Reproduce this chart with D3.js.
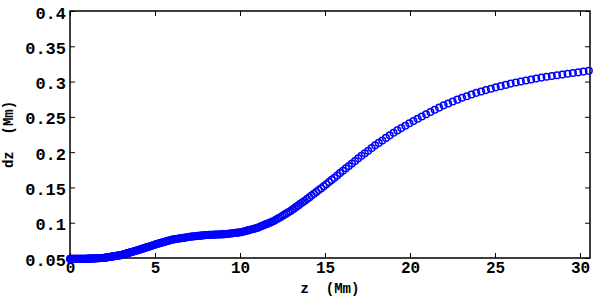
<!DOCTYPE html>
<html>
<head>
<meta charset="utf-8">
<script src="https://cdn.jsdelivr.net/npm/d3@7"></script>
<style>
  body { margin: 0; background: #fff; }
  svg { display: block; }
  .tick text { font-family: 'Liberation Mono', 'DejaVu Sans Mono', monospace; font-weight: bold; font-size: 17px; fill: #000; }
  .x-axis .tick text { font-size: 16px; }
  .tick line { stroke: #000; stroke-width: 1; }
  .label { font-family: 'Liberation Mono', monospace; font-weight: bold; font-size: 14px; fill: #000; white-space: pre; }
</style>
</head>
<body>
<div class="container"></div>
<script>
// grid spacing dz (Mm) at every grid point; z is the running sum of dz
const dzValues = [
  0.0487, 0.0487, 0.0487, 0.0487, 0.0487, 0.0488, 0.0488, 0.0488, 0.0488, 0.0488,
  0.0488, 0.0488, 0.0489, 0.0489, 0.0489, 0.0489, 0.0489, 0.0489, 0.049, 0.049,
  0.049, 0.049, 0.0491, 0.0491, 0.0492, 0.0492, 0.0493, 0.0493, 0.0494, 0.0494,
  0.0495, 0.0495, 0.0496, 0.0497, 0.0497, 0.0498, 0.0499, 0.0499, 0.05, 0.05, 0.0501,
  0.0503, 0.0505, 0.0507, 0.0509, 0.0511, 0.0513, 0.0515, 0.0517, 0.0519, 0.0521,
  0.0523, 0.0525, 0.0527, 0.0529, 0.0531, 0.0533, 0.0535, 0.0537, 0.0539,
  0.0541, 0.0545, 0.0549, 0.0553, 0.0557, 0.0561, 0.0565, 0.0569, 0.0573, 0.0577,
  0.0581, 0.0585, 0.0589, 0.0593, 0.0597, 0.0601, 0.0605,
  0.0609, 0.0614, 0.0619, 0.0624, 0.0629, 0.0634, 0.0639, 0.0644, 0.0649, 0.0654,
  0.0659, 0.0664, 0.0669, 0.0674, 0.0679, 0.0684,
  0.0691, 0.0696, 0.0701, 0.0706, 0.0711, 0.0716, 0.0721, 0.0726, 0.0731, 0.0736,
  0.0741, 0.0746, 0.0751, 0.0756,
  0.0761, 0.0764, 0.0767, 0.077, 0.0773, 0.0776, 0.0779, 0.0782, 0.0785, 0.0788,
  0.0791, 0.0794, 0.0797,
  0.0801, 0.0803, 0.0805, 0.0807, 0.0809, 0.0811, 0.0813, 0.0815, 0.0817, 0.0819,
  0.0821, 0.0823,
  0.0825, 0.0826, 0.0827, 0.0828, 0.0829, 0.083, 0.0831, 0.0832, 0.0833, 0.0834,
  0.0835, 0.0835,
  0.0835, 0.0838, 0.084, 0.0842, 0.0844, 0.0847, 0.0849, 0.0851, 0.0854, 0.0856,
  0.0859, 0.0861,
  0.0864, 0.0869, 0.0875, 0.088, 0.0886, 0.0891, 0.0897, 0.0903, 0.0908, 0.0914, 0.092,
  0.0926, 0.0935, 0.0945, 0.0954, 0.0964, 0.0973, 0.0983, 0.0993, 0.1003, 0.1013, 0.1023,
  0.1037, 0.1052, 0.1067, 0.1082, 0.1098, 0.1114, 0.113, 0.1147, 0.1163,
  0.1182, 0.1203, 0.1224, 0.1245, 0.1267, 0.1289, 0.1312, 0.1335,
  0.1359, 0.1384, 0.141, 0.1436, 0.1462, 0.1489, 0.1517,
  0.1546, 0.1576, 0.1607, 0.1638, 0.167, 0.1703,
  0.1736, 0.177, 0.1804, 0.1839, 0.1875, 0.1912,
  0.1948, 0.1984, 0.202, 0.2058, 0.2096,
  0.2131, 0.2166, 0.2202, 0.2238,
  0.2275, 0.2308, 0.2341, 0.2375, 0.241,
  0.2442, 0.2473, 0.2505, 0.2538,
  0.2569, 0.26, 0.2631, 0.2663,
  0.269, 0.2717, 0.2744,
  0.277, 0.2793, 0.2816, 0.284,
  0.286, 0.2879, 0.2899,
  0.2918, 0.2935, 0.2953, 0.2971,
  0.2986, 0.3001, 0.3016,
  0.303, 0.3043, 0.3056,
  0.3069, 0.308, 0.309, 0.3101,
  0.3111, 0.3121, 0.3131, 0.3141, 0.3152
];

const xTicks = [0, 5, 10, 15, 20, 25, 30];
const yTicks = [0.05, 0.1, 0.15, 0.2, 0.25, 0.3, 0.35, 0.4];

const xLabel = 'z  (Mm)';
const yLabel = 'dz  (Mm)';

// z of each point: first point at 0, each next one dz further
const zValues = [0].concat(Array.from(d3.cumsum(dzValues)).slice(0, dzValues.length - 1));
const points = dzValues.map((dz, i) => ({ z: zValues[i], dz: dz }));

const width = 600;
const height = 297;
const plot = { left: 70, right: 590, top: 11, bottom: 258 };

const svg = d3.select('.container')
  .append('svg')
  .attr('width', width)
  .attr('height', height);

const xScale = d3.scaleLinear()
  .domain([0, 30.59])
  .range([plot.left, plot.right]);

const yScale = d3.scaleLinear()
  .domain([0.05, 0.4])
  .range([plot.bottom, plot.top]);

const fmt = d => String(+d.toFixed(2));

// axes with ticks pointing inward, like matlab
svg.append('g')
  .attr('class', 'x-axis')
  .attr('transform', `translate(0, ${plot.bottom})`)
  .call(d3.axisBottom(xScale).tickValues(xTicks).tickFormat(fmt).tickSizeInner(-5).tickSizeOuter(0).tickPadding(4))
  .call(g => g.select('.domain').remove());

svg.append('g')
  .attr('transform', `translate(${plot.left}, 0)`)
  .call(d3.axisLeft(yScale).tickValues(yTicks).tickFormat(fmt).tickSizeInner(-5).tickSizeOuter(0).tickPadding(4))
  .call(g => g.select('.domain').remove())
  .call(g => g.selectAll('text').attr('dy', '0.42em'));

svg.append('g')
  .attr('transform', `translate(0, ${plot.top})`)
  .call(d3.axisTop(xScale).tickValues(xTicks).tickFormat('').tickSizeInner(-5).tickSizeOuter(0))
  .call(g => g.select('.domain').remove());

svg.append('g')
  .attr('transform', `translate(${plot.right}, 0)`)
  .call(d3.axisRight(yScale).tickValues(yTicks).tickFormat('').tickSizeInner(-5).tickSizeOuter(0))
  .call(g => g.select('.domain').remove());

// frame
svg.append('rect')
  .attr('x', plot.left)
  .attr('y', plot.top)
  .attr('width', plot.right - plot.left)
  .attr('height', plot.bottom - plot.top)
  .attr('fill', 'none')
  .attr('stroke', '#000')
  .attr('stroke-width', 1.5);

// markers
svg.append('g')
  .selectAll('circle')
  .data(points)
  .enter()
  .append('circle')
  .attr('cx', d => xScale(d.z))
  .attr('cy', d => yScale(d.dz))
  .attr('r', 3.3)
  .attr('fill', 'none')
  .attr('stroke', '#0000ff')
  .attr('stroke-width', 1.5);

svg.append('text')
  .attr('class', 'label')
  .attr('x', (plot.left + plot.right) / 2)
  .attr('y', 292.5)
  .attr('text-anchor', 'middle')
  .text(xLabel);

svg.append('text')
  .attr('class', 'label')
  .attr('transform', `translate(13, ${(plot.top + plot.bottom) / 2}) rotate(-90)`)
  .attr('text-anchor', 'middle')
  .text(yLabel);
</script>
</body>
</html>
